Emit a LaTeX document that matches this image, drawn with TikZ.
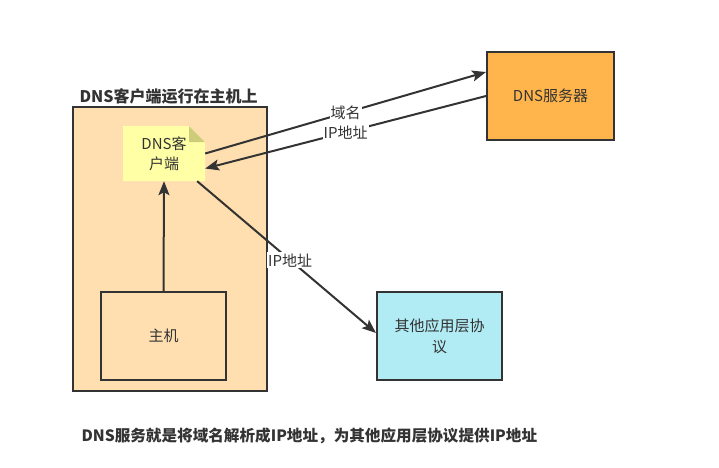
\documentclass[tikz,border=0pt]{standalone}
\usepackage{fontspec}
\setmainfont{Noto Sans CJK SC}
\usetikzlibrary{arrows.meta}
\definecolor{linegray}{HTML}{333333}
\definecolor{hostfill}{HTML}{FFDFB0}
\definecolor{notefill}{HTML}{FFFFA6}
\definecolor{foldfill}{HTML}{CCCC7A}
\definecolor{serverfill}{HTML}{FFB54C}
\definecolor{otherfill}{HTML}{B1EBF3}
\tikzset{
  box/.style={draw=linegray, line width=2pt, align=center},
  arr/.style={draw=linegray, line width=2pt, -{Stealth[length=14pt,width=11pt,inset=3pt]}},
  lbl/.style={fill=white, inner sep=1pt},
  note/.style={minimum width=82pt, minimum height=55pt, align=center,
    path picture={
      \fill[notefill] (path picture bounding box.south west) -- (path picture bounding box.north west)
        -- ([xshift=-16pt]path picture bounding box.north east)
        -- ([yshift=-16pt]path picture bounding box.north east)
        -- (path picture bounding box.south east) -- cycle;
      \fill[foldfill] ([xshift=-16pt]path picture bounding box.north east)
        -- ([yshift=-16pt]path picture bounding box.north east)
        -- ([xshift=-16pt,yshift=-16pt]path picture bounding box.north east) -- cycle;
    }}
}
\begin{document}
\begin{tikzpicture}[x=1pt, y=-1pt, font=\fontsize{15}{20}\selectfont, text=linegray]
    \useasboundingbox (0,0) rectangle (719,467);

    \node[box, fill=hostfill, minimum width=194pt, minimum height=284pt] (H) at (170,249) {};
    \node[anchor=west, font=\fontsize{16}{20}\selectfont\bfseries] (T) at (76,96) {DNS客户端运行在主机上};
    \node[note] (C) at (164,153.5) {DNS客\\户端};
    \node[box, fill=hostfill, minimum width=125pt, minimum height=88pt] (M) at (163.5,336) {主机};
    \node[box, fill=serverfill, minimum width=127pt, minimum height=88pt] (S) at (550.5,96) {DNS服务器};
    \node[box, fill=otherfill, minimum width=125pt, minimum height=88pt, font=\fontsize{15}{21}\selectfont] (O) at (439.5,336) {其他应用层协\\议};
    \node[anchor=west, font=\fontsize{15.6}{20}\selectfont\bfseries] (B) at (78,436) {DNS服务就是将域名解析成IP地址，为其他应用层协议提供IP地址};

    \draw[arr] (M.north) -- (C.south);
    \draw[arr] (C.east) -- node[lbl] {域名} ([yshift=24pt]S.west);
    \draw[arr] (S.west) -- node[lbl] {IP地址} ([yshift=-15pt]C.east);
    \draw[arr] ([xshift=-8pt]C.south east) -- node[lbl, pos=0.52] {IP地址} ([yshift=3pt]O.west);
\end{tikzpicture}
\end{document}
